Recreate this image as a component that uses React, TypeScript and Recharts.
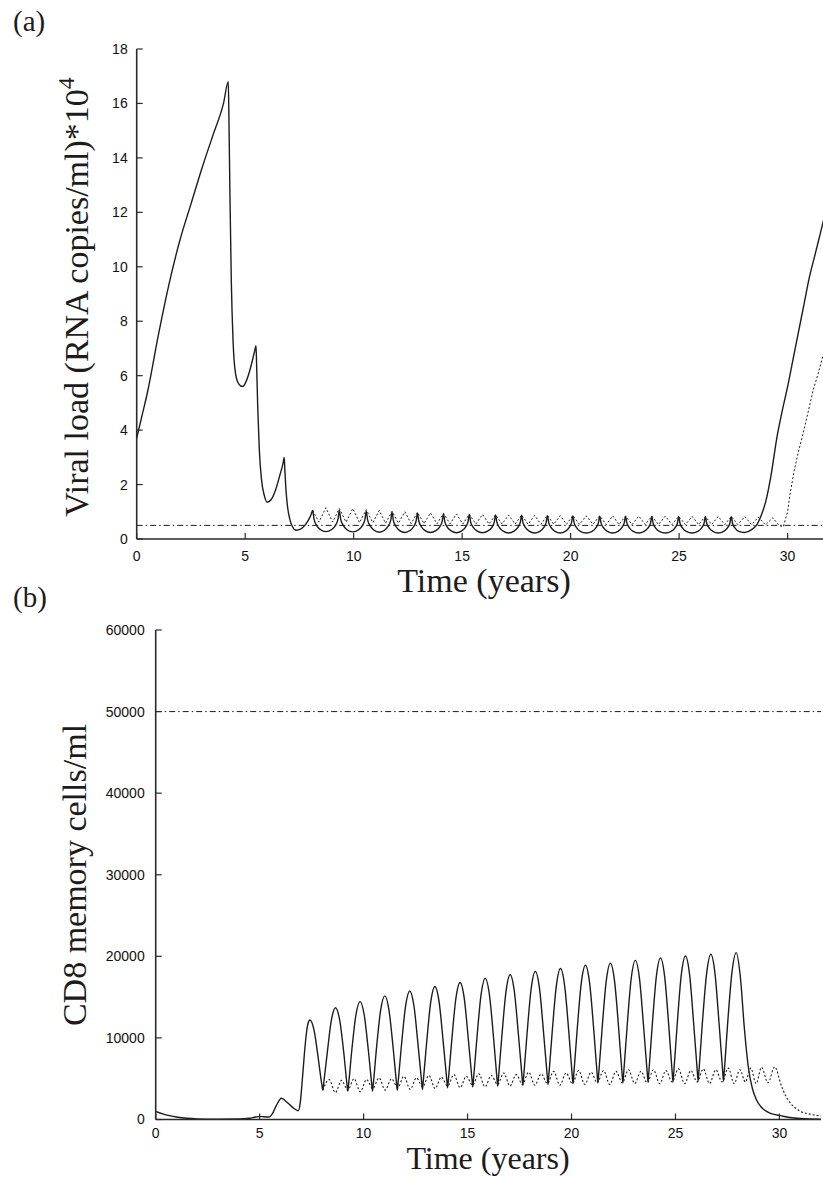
import React from 'react';
import { LineChart, Line, XAxis, YAxis } from 'recharts';

// ---------- axes ----------
const xTicks = [0, 5, 10, 15, 20, 25, 30];
const xDomain: [number, number] = [0, 32];
const viralTicks = [0, 2, 4, 6, 8, 10, 12, 14, 16, 18];
const viralDomain: [number, number] = [0, 18];
const cd8Ticks = [0, 10000, 20000, 30000, 40000, 50000, 60000];
const cd8Domain: [number, number] = [0, 60000];

// ---------- panel (a): viral load (x10^4 RNA copies/ml) ----------
const viralSolid: [number, number][] = [
  [0, 3.7], [0.25, 4.55], [0.5, 5.4], [1, 7.5], [1.5, 9.4], [2, 11.0], [2.5, 12.3], [3, 13.6], [3.5, 14.8], [4, 16.0],
  [4.22, 16.8], [4.25, 15.5], [4.3, 12.5], [4.36, 9.5], [4.44, 7.3], [4.55, 6.1], [4.7, 5.7], [4.88, 5.6], [5.05, 5.8],
  [5.25, 6.3], [5.42, 6.85], [5.5, 7.1], [5.53, 6.3], [5.58, 4.8], [5.65, 3.3], [5.75, 2.2], [5.88, 1.6], [6.02, 1.35],
  [6.2, 1.45], [6.4, 1.8], [6.6, 2.35], [6.75, 2.8], [6.8, 3.0], [6.83, 2.5], [6.88, 1.8], [6.95, 1.2], [7.05, 0.75],
  [7.18, 0.45], [7.35, 0.32], [7.55, 0.36], [7.75, 0.5], [7.92, 0.7], [8.03, 0.88], [8.11, 1.05],
  [8.17, 0.74], [8.29, 0.5], [8.46, 0.35], [8.72, 0.27], [8.99, 0.35], [9.16, 0.5], [9.28, 0.74], [9.34, 1.05],
  [9.4, 0.73], [9.52, 0.5], [9.69, 0.34], [9.96, 0.26], [10.23, 0.34], [10.4, 0.49], [10.52, 0.72], [10.58, 1.02],
  [10.64, 0.71], [10.76, 0.48], [10.93, 0.33], [11.18, 0.25], [11.42, 0.32], [11.59, 0.47], [11.71, 0.69], [11.77, 0.98],
  [11.83, 0.68], [11.95, 0.46], [12.12, 0.31], [12.36, 0.24], [12.59, 0.31], [12.76, 0.45], [12.88, 0.67], [12.94, 0.95],
  [13.0, 0.67], [13.12, 0.45], [13.29, 0.31], [13.54, 0.24], [13.79, 0.31], [13.96, 0.44], [14.08, 0.65], [14.14, 0.92],
  [14.2, 0.64], [14.32, 0.43], [14.49, 0.3], [14.74, 0.23], [14.98, 0.3], [15.15, 0.43], [15.27, 0.63], [15.33, 0.9],
  [15.39, 0.63], [15.51, 0.43], [15.68, 0.3], [15.94, 0.23], [16.19, 0.3], [16.36, 0.42], [16.48, 0.62], [16.54, 0.88],
  [16.6, 0.62], [16.72, 0.42], [16.89, 0.29], [17.14, 0.22], [17.39, 0.29], [17.56, 0.42], [17.68, 0.61], [17.74, 0.87],
  [17.8, 0.61], [17.92, 0.42], [18.09, 0.29], [18.34, 0.22], [18.58, 0.28], [18.75, 0.41], [18.87, 0.6], [18.93, 0.86],
  [18.99, 0.6], [19.11, 0.41], [19.28, 0.28], [19.52, 0.22], [19.75, 0.28], [19.92, 0.41], [20.04, 0.6], [20.1, 0.85],
  [20.16, 0.6], [20.28, 0.41], [20.45, 0.28], [20.72, 0.22], [20.99, 0.28], [21.16, 0.41], [21.28, 0.59], [21.34, 0.84],
  [21.4, 0.59], [21.52, 0.41], [21.69, 0.28], [21.94, 0.22], [22.18, 0.28], [22.35, 0.41], [22.47, 0.59], [22.53, 0.84],
  [22.59, 0.59], [22.71, 0.41], [22.88, 0.28], [23.14, 0.22], [23.39, 0.28], [23.56, 0.4], [23.68, 0.58], [23.74, 0.83],
  [23.8, 0.58], [23.92, 0.4], [24.09, 0.28], [24.36, 0.22], [24.63, 0.28], [24.8, 0.4], [24.92, 0.58], [24.98, 0.83],
  [25.04, 0.58], [25.16, 0.4], [25.33, 0.28], [25.6, 0.22], [25.86, 0.28], [26.03, 0.4], [26.15, 0.58], [26.21, 0.82],
  [26.27, 0.58], [26.39, 0.4], [26.56, 0.28], [26.8, 0.22], [27.05, 0.28], [27.22, 0.4], [27.34, 0.58], [27.4, 0.82],
  [27.46, 0.58], [27.58, 0.4], [27.75, 0.28], [28.0, 0.24], [28.2, 0.28], [28.4, 0.38], [28.6, 0.55], [28.8, 0.9],
  [29.0, 1.4], [29.25, 2.4], [29.5, 3.7], [29.75, 4.7], [30.0, 5.6], [30.25, 6.6], [30.5, 7.6], [30.75, 8.6],
  [31.0, 9.6], [31.25, 10.4], [31.5, 11.2], [31.75, 12.0], [32.0, 12.6],
];

const viralDotted: [number, number][] = [
  [8.11, 1.05], [8.4, 0.62], [8.72, 1.15], [9.03, 0.62], [9.34, 1.12], [9.65, 0.62], [9.96, 1.12], [10.27, 0.6],
  [10.58, 1.08], [10.88, 0.6], [11.18, 1.05], [11.47, 0.58], [11.77, 1.02], [12.06, 0.58], [12.36, 1.0], [12.65, 0.57],
  [12.94, 0.98], [13.24, 0.57], [13.54, 0.96], [13.84, 0.56], [14.14, 0.94], [14.44, 0.56], [14.74, 0.92], [15.03, 0.55],
  [15.33, 0.91], [15.63, 0.55], [15.94, 0.9], [16.24, 0.55], [16.54, 0.89], [16.84, 0.55], [17.14, 0.88], [17.44, 0.55],
  [17.74, 0.88], [18.04, 0.54], [18.34, 0.87], [18.63, 0.54], [18.93, 0.87], [19.22, 0.54], [19.52, 0.86], [19.81, 0.54],
  [20.1, 0.86], [20.41, 0.54], [20.72, 0.85], [21.03, 0.54], [21.34, 0.85], [21.64, 0.53], [21.94, 0.85], [22.23, 0.53],
  [22.53, 0.84], [22.83, 0.53], [23.14, 0.84], [23.44, 0.53], [23.74, 0.84], [24.05, 0.53], [24.36, 0.84], [24.67, 0.53],
  [24.98, 0.83], [25.29, 0.53], [25.6, 0.83], [25.9, 0.53], [26.21, 0.83], [26.5, 0.53], [26.8, 0.83], [27.1, 0.53],
  [27.4, 0.83], [27.7, 0.53], [28.03, 0.82], [28.34, 0.53], [28.65, 0.8], [28.98, 0.52], [29.32, 0.78], [29.6, 0.5],
  [29.8, 0.45], [30.0, 1.0], [30.1, 1.6], [30.3, 2.5], [30.5, 3.2], [30.72, 3.9], [31.0, 4.85], [31.17, 5.45],
  [31.4, 6.05], [31.62, 6.7], [32.0, 7.5],
];

const viralThreshold: [number, number][] = [[0, 0.5], [32, 0.5]];

// ---------- panel (b): CD8 memory cells/ml ----------
const cd8Solid: [number, number][] = [
  [0, 1000], [0.3, 720], [0.6, 500], [1, 300], [1.5, 150], [2, 80], [3, 50], [4, 60], [4.5, 150], [4.8, 300],
  [5, 380], [5.2, 330], [5.45, 300], [5.6, 650], [5.8, 1700], [6.05, 2600], [6.3, 2150], [6.6, 1450], [6.86, 1080],
  [6.95, 2000], [7.05, 4800], [7.15, 8000], [7.25, 10600], [7.33, 11800], [7.42, 12200],
  [7.62, 10910], [7.82, 7470], [7.99, 4290], [8.04, 3600],
  [8.08, 4410], [8.25, 8145], [8.45, 12185], [8.65, 13700],
  [8.85, 12170], [9.05, 8090], [9.2, 4316], [9.24, 3500],
  [9.28, 4376], [9.43, 8428], [9.63, 12808], [9.83, 14450],
  [10.03, 12808], [10.23, 8428], [10.39, 4376], [10.43, 3500],
  [10.47, 4432], [10.62, 8743], [10.82, 13403], [11.02, 15150],
  [11.22, 13418], [11.42, 8798], [11.58, 4524], [11.62, 3600],
  [11.66, 4572], [11.82, 9068], [12.02, 13928], [12.22, 15750],
  [12.42, 13943], [12.62, 9123], [12.79, 4664], [12.83, 3700],
  [12.87, 4708], [13.03, 9370], [13.23, 14410], [13.43, 16300],
  [13.63, 14440], [13.83, 9480], [14.0, 4892], [14.04, 3900],
  [14.08, 4932], [14.24, 9705], [14.44, 14865], [14.64, 16800],
  [14.84, 14880], [15.04, 9760], [15.21, 5024], [15.25, 4000],
  [15.29, 5064], [15.45, 9985], [15.65, 15305], [15.85, 17300],
  [16.05, 15320], [16.25, 10040], [16.41, 5156], [16.45, 4100],
  [16.49, 5192], [16.65, 10243], [16.85, 15703], [17.05, 17750],
  [17.25, 15718], [17.45, 10298], [17.62, 5284], [17.66, 4200],
  [17.7, 5316], [17.86, 10478], [18.06, 16058], [18.26, 18150],
  [18.46, 16073], [18.66, 10533], [18.83, 5408], [18.87, 4300],
  [18.91, 5436], [19.07, 10690], [19.27, 16370], [19.47, 18500],
  [19.67, 16385], [19.87, 10745], [20.03, 5528], [20.07, 4400],
  [20.11, 5560], [20.27, 10925], [20.47, 16725], [20.67, 18900],
  [20.87, 16740], [21.07, 10980], [21.23, 5652], [21.27, 4500],
  [21.31, 5672], [21.47, 11093], [21.67, 16953], [21.87, 19150],
  [22.07, 16953], [22.27, 11093], [22.43, 5672], [22.47, 4500],
  [22.51, 5700], [22.67, 11250], [22.87, 17250], [23.07, 19500],
  [23.27, 17265], [23.47, 11305], [23.64, 5792], [23.68, 4600],
  [23.72, 5816], [23.88, 11440], [24.08, 17520], [24.28, 19800],
  [24.48, 17520], [24.68, 11440], [24.84, 5816], [24.88, 4600],
  [24.92, 5836], [25.08, 11553], [25.28, 17733], [25.48, 20050],
  [25.68, 17748], [25.88, 11608], [26.05, 5928], [26.09, 4700],
  [26.13, 5944], [26.29, 11698], [26.5, 17918], [26.7, 20250],
  [26.9, 17918], [27.1, 11698], [27.27, 5944], [27.31, 4700],
  [27.35, 5960], [27.51, 11788], [27.72, 18088], [27.92, 20450],
  [28.12, 17500], [28.32, 11000], [28.5, 6500], [28.7, 3800], [28.9, 2400], [29.1, 1600], [29.4, 960],
  [29.7, 650], [30.05, 470], [30.5, 250], [31, 120], [31.5, 60], [32, 30],
];

const cd8Dotted: [number, number][] = [
  [8.04, 3600], [8.34, 4900], [8.64, 3300], [8.94, 4800], [9.24, 3600], [9.54, 5000], [9.84, 3400], [10.14, 4900],
  [10.44, 3800], [10.74, 5100], [11.04, 3600], [11.34, 5000], [11.64, 3900], [11.94, 5300], [12.24, 3700], [12.54, 5100],
  [12.84, 4000], [13.14, 5400], [13.44, 3800], [13.74, 5200], [14.04, 4100], [14.34, 5500], [14.64, 3900], [14.94, 5300],
  [15.24, 4200], [15.54, 5600], [15.84, 4000], [16.14, 5400], [16.44, 4300], [16.74, 5700], [17.04, 4100], [17.34, 5500],
  [17.64, 4300], [17.94, 5800], [18.24, 4200], [18.54, 5600], [18.84, 4400], [19.14, 5900], [19.44, 4200], [19.74, 5700],
  [20.04, 4400], [20.34, 6000], [20.64, 4300], [20.94, 5800], [21.24, 4500], [21.54, 6000], [21.84, 4300], [22.14, 5900],
  [22.44, 4500], [22.74, 6100], [23.04, 4400], [23.34, 5900], [23.64, 4500], [23.94, 6100], [24.24, 4400], [24.54, 6000],
  [24.84, 4600], [25.14, 6200], [25.44, 4400], [25.74, 6000], [26.04, 4600], [26.34, 6200], [26.64, 4400], [26.94, 6100],
  [27.24, 4600], [27.54, 6300], [27.82, 4400], [28.1, 6100], [28.36, 4600], [28.62, 6300], [28.88, 4400], [29.14, 6400],
  [29.45, 4500], [29.77, 6450], [30.1, 4100], [30.3, 2900], [30.5, 2100], [30.8, 1350], [31, 1000], [31.4, 700], [32, 420],
];

const cd8Threshold: [number, number][] = [[0, 50000], [32, 50000]];

// ---------- helpers ----------
const rows = (pts: [number, number][]) => pts.map(([t, v]) => ({ t, v }));

const INK = '#1c1c1c';
const AXIS = '#2a2a2a';
const tickFont = { fontFamily: '"Liberation Sans", Arial, sans-serif', fontSize: 14, fill: '#111' };
const titleFont = '"Liberation Serif", "Times New Roman", serif';

const lineCommon = { dot: false, activeDot: false, isAnimationActive: false, legendType: 'none' as const };

export default function App() {
  return (
    <div style={{ position: 'absolute', left: 0, top: 0, width: 823, height: 1177, overflow: 'hidden', background: '#fff' }}>
      {/* panel (a) */}
      <div style={{ position: 'absolute', left: 0, top: 0 }}>
        <LineChart width={860} height={600} margin={{ top: 49, right: 29, bottom: 21, left: 0 }}>
          <XAxis dataKey="t" type="number" domain={xDomain} ticks={xTicks} interval={0} allowDataOverflow
            height={40} tickSize={-6} tickMargin={18} tick={tickFont}
            axisLine={{ stroke: AXIS, strokeWidth: 1.6 }} tickLine={{ stroke: AXIS, strokeWidth: 1.2 }} />
          <XAxis xAxisId="top" orientation="top" dataKey="t" type="number" domain={xDomain} ticks={xTicks} interval={0}
            allowDataOverflow height={0} tickSize={-6} tick={false}
            axisLine={{ stroke: AXIS, strokeWidth: 1.6 }} tickLine={{ stroke: AXIS, strokeWidth: 1.2 }} />
          <YAxis type="number" domain={viralDomain} ticks={viralTicks} interval={0} allowDataOverflow
            width={136.7} tickSize={-6} tickMargin={15} tick={tickFont}
            axisLine={{ stroke: AXIS, strokeWidth: 1.6 }} tickLine={{ stroke: AXIS, strokeWidth: 1.2 }} />
          <Line data={rows(viralThreshold)} dataKey="v" type="linear" stroke={INK} strokeWidth={1}
            strokeDasharray="6 3 1.5 3" {...lineCommon} />
          <Line data={rows(viralDotted)} dataKey="v" type="linear" stroke={INK} strokeWidth={1}
            strokeDasharray="2 2" {...lineCommon} />
          <Line data={rows(viralSolid)} dataKey="v" type="monotone" stroke={INK} strokeWidth={1.4} {...lineCommon} />
        </LineChart>
      </div>

      {/* panel (b) */}
      <div style={{ position: 'absolute', left: 0, top: 580 }}>
        <LineChart width={823} height={597} margin={{ top: 50, right: 2, bottom: 12.5, left: 0 }}>
          <XAxis dataKey="t" type="number" domain={xDomain} ticks={xTicks} interval={0} allowDataOverflow
            height={45} tickSize={-6} tickMargin={15} tick={tickFont}
            axisLine={{ stroke: AXIS, strokeWidth: 1.6 }} tickLine={{ stroke: AXIS, strokeWidth: 1.2 }} />
          <XAxis xAxisId="top" orientation="top" dataKey="t" type="number" domain={xDomain} ticks={xTicks} interval={0}
            allowDataOverflow height={0} tickSize={-6} tick={false}
            axisLine={{ stroke: AXIS, strokeWidth: 1.6 }} tickLine={{ stroke: AXIS, strokeWidth: 1.2 }} />
          <YAxis type="number" domain={cd8Domain} ticks={cd8Ticks} interval={0} allowDataOverflow
            width={155.7} tickSize={-6} tickMargin={17} tick={tickFont}
            axisLine={{ stroke: AXIS, strokeWidth: 1.6 }} tickLine={{ stroke: AXIS, strokeWidth: 1.2 }} />
          <YAxis yAxisId="right" orientation="right" type="number" domain={cd8Domain} ticks={cd8Ticks} interval={0}
            allowDataOverflow width={0} tickSize={-6} tick={false}
            axisLine={{ stroke: AXIS, strokeWidth: 1.6 }} tickLine={{ stroke: AXIS, strokeWidth: 1.2 }} />
          <Line data={rows(cd8Threshold)} dataKey="v" type="linear" stroke={INK} strokeWidth={1}
            strokeDasharray="6 3 1.5 3" {...lineCommon} />
          <Line data={rows(cd8Dotted)} dataKey="v" type="monotone" stroke={INK} strokeWidth={1.1}
            strokeDasharray="2 2" {...lineCommon} />
          <Line data={rows(cd8Solid)} dataKey="v" type="monotone" stroke={INK} strokeWidth={1.4} {...lineCommon} />
        </LineChart>
      </div>

      {/* titles */}
      <svg width={823} height={1177} style={{ position: 'absolute', left: 0, top: 0, pointerEvents: 'none' }}>
        <text x={13} y={31} fontFamily={titleFont} fontSize={29} fill={INK}>(a)</text>
        <text x={13} y={607} fontFamily={titleFont} fontSize={29} fill={INK}>(b)</text>
        <text x={484} y={592} fontFamily={titleFont} fontSize={34} fill={INK} textAnchor="middle">Time (years)</text>
        <text x={488} y={1169} fontFamily={titleFont} fontSize={32} fill={INK} textAnchor="middle">Time (years)</text>
        <text x={88} y={297} transform="rotate(-90, 88, 297)" fontFamily={titleFont} fontSize={34} fill={INK} textAnchor="middle">
          Viral load (RNA copies/ml)*10<tspan dy={-14} fontSize={24}>4</tspan>
        </text>
        <text x={86} y={875} transform="rotate(-90, 86, 875)" fontFamily={titleFont} fontSize={34} fill={INK} textAnchor="middle">
          CD8 memory cells/ml
        </text>
      </svg>
    </div>
  );
}
